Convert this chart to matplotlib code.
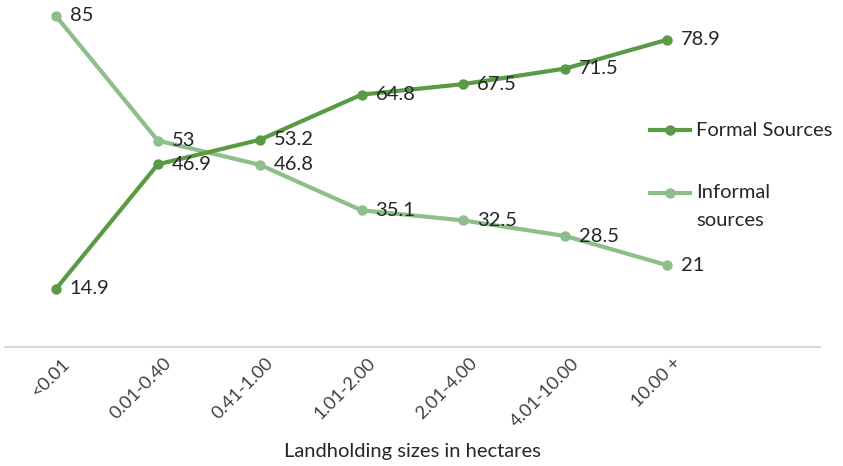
import matplotlib
matplotlib.use("Agg")
import matplotlib.pyplot as plt
from matplotlib.lines import Line2D

categories = ["<0.01", "0.01-0.40", "0.41-1.00", "1.01-2.00", "2.01-4.00", "4.01-10.00", "10.00 +"]
formal = [14.9, 46.9, 53.2, 64.8, 67.5, 71.5, 78.9]
informal = [85, 53, 46.8, 35.1, 32.5, 28.5, 21]
series_names = ["Formal Sources", "Informal\nsources"]
x_title = "Landholding sizes in hectares"

formal_color = "#599B45"
informal_color = "#8EBF8A"
text_color = "#262626"

plt.rcParams["font.family"] = ["Lato", "DejaVu Sans"]

W, H = 843, 466
fig = plt.figure(figsize=(W / 100, H / 100), dpi=100)
ax = fig.add_axes([5 / W, (H - 347) / H, (820 - 5) / W, 347 / H])

xs = list(range(len(categories)))
ax.plot(xs, informal, color=informal_color, lw=3, marker="o", ms=6.5, zorder=3)
ax.plot(xs, formal, color=formal_color, lw=3, marker="o", ms=6.5, zorder=4)

label_size = 14.5
for series in (formal, informal):
    for x, v in zip(xs, series):
        ax.annotate(f"{v:g}", (x, v), xytext=(10, 0), textcoords="offset points",
                    ha="left", va="center", fontsize=label_size, color=text_color, zorder=5)

ax.set_xlim(-0.5, 7.5)
ax.set_ylim(0, 89.1)
for s in ["top", "right", "left"]:
    ax.spines[s].set_visible(False)
ax.spines["bottom"].set_color("#D9D9D9")
ax.spines["bottom"].set_linewidth(1.5)
ax.set_yticks([])
ax.set_xticks(xs)
ax.set_xticklabels([])
ax.tick_params(axis="x", length=0)

# rotated category labels, ending just below the axis line
for x, cat in zip(xs, categories):
    ax.annotate(cat, (x, 0), xytext=(8, -10), textcoords="offset points",
                ha="right", va="center", rotation=45, rotation_mode="anchor",
                fontsize=13.2, color="#404040", annotation_clip=False)

fig.text((5 + 820) / 2 / W, 1 - 451 / H, x_title, ha="center", va="center",
         fontsize=label_size, color=text_color)

# legend drawn in figure coordinates
leg_items = [(formal_color, series_names[0], 130), (informal_color, series_names[1], 193)]
for color, name, ypx in leg_items:
    fy = 1 - ypx / H
    fig.add_artist(Line2D([650 / W, 690 / W], [fy, fy], color=color, lw=3,
                          transform=fig.transFigure))
    fig.add_artist(Line2D([670 / W], [fy], color=color, marker="o", ms=6.5,
                          transform=fig.transFigure))
    for i, line in enumerate(name.split("\n")):
        fig.text(696 / W, 1 - (ypx + 27 * i) / H, line, ha="left", va="center",
                 fontsize=label_size, color=text_color)

fig.savefig("out.png", dpi=100)
